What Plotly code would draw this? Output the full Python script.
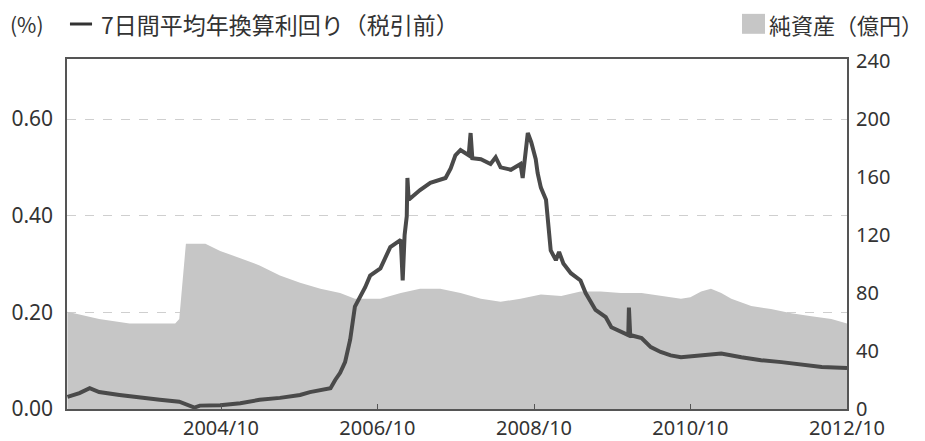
import plotly.graph_objects as go

# Net assets (億円), right axis
asset_dates = ["2002-10-15","2003-03-12","2003-08-01","2004-03-01","2004-03-20","2004-04-10","2004-04-20",
               "2004-07-20","2004-09-27","2004-12-30","2005-03-30","2005-07-03","2005-10-05","2006-01-08",
               "2006-04-10","2006-06-18","2006-10-15","2007-01-18","2007-04-18","2007-07-21","2007-10-24",
               "2008-01-27","2008-04-28","2008-07-30","2008-11-02","2009-02-05","2009-05-06","2009-08-08",
               "2009-11-10","2010-02-15","2010-05-15","2010-08-18","2010-10-01","2010-11-20","2011-01-05",
               "2011-02-22","2011-04-10","2011-07-12","2011-10-12","2012-01-15","2012-04-18","2012-07-20",
               "2012-10-01"]
asset_values = [67,62,59,59,62,95,114,
                114,109,104,99,92,87,83,
                80,76,76,80,83,83,80,
                76,74,76,79,78,81,81,
                80,80,78,76,77,81,83,
                80,76,71,69,66,64,62,
                59]

# 7-day average annualized yield (%), left axis
yield_dates = ["2002-10-15","2002-12-10","2003-01-27","2003-03-12","2003-06-15","2003-09-18","2003-11-02",
               "2003-12-20","2004-03-20","2004-05-30","2004-06-24","2004-09-27","2004-12-30","2005-03-30",
               "2005-07-03","2005-10-05","2005-11-20","2006-01-08","2006-02-24","2006-03-18","2006-04-10",
               "2006-05-03","2006-05-27","2006-06-18","2006-07-12","2006-08-05","2006-08-28","2006-10-15",
               "2006-11-30","2007-01-18","2007-01-27","2007-02-05","2007-02-15","2007-02-18","2007-02-24",
               "2007-03-27","2007-04-18","2007-06-05","2007-07-21","2007-08-15","2007-09-08","2007-09-30",
               "2007-10-24","2007-12-01","2007-12-10","2007-12-18","2008-01-27","2008-03-12","2008-04-05",
               "2008-04-28","2008-06-15","2008-07-30","2008-08-09","2008-08-18","2008-09-02","2008-09-18",
               "2008-10-09","2008-10-18","2008-11-02","2008-11-26","2008-12-09","2008-12-18","2009-01-11",
               "2009-01-26","2009-02-15","2009-03-22","2009-05-06","2009-05-30","2009-07-15","2009-09-01",
               "2009-09-27","2009-11-10","2009-12-15","2009-12-18","2009-12-24","2010-02-15","2010-03-30",
               "2010-05-15","2010-07-01","2010-08-18","2010-11-20","2011-02-22","2011-05-27","2011-08-27",
               "2011-11-30","2012-03-03","2012-06-05","2012-10-01"]
yield_values = [0.025,0.033,0.043,0.035,0.029,0.025,0.023,
                0.019,0.015,0.003,0.007,0.008,0.012,0.019,
                0.023,0.029,0.035,0.039,0.043,0.060,0.075,
                0.097,0.144,0.212,0.232,0.252,0.276,0.291,
                0.335,0.350,0.266,0.360,0.399,0.478,0.433,
                0.446,0.453,0.468,0.474,0.478,0.498,0.525,
                0.536,0.525,0.571,0.519,0.517,0.507,0.521,
                0.500,0.495,0.507,0.478,0.512,0.571,0.552,
                0.517,0.488,0.458,0.433,0.380,0.328,0.308,
                0.325,0.301,0.281,0.266,0.240,0.205,0.190,
                0.169,0.159,0.153,0.210,0.153,0.147,0.128,
                0.118,0.111,0.107,0.111,0.115,0.107,0.101,
                0.097,0.091,0.087,0.085]

x_tickvals = ["2004-10-01","2006-10-01","2008-10-01","2010-10-01","2012-10-01"]
x_ticktext = ["2004/10","2006/10","2008/10","2010/10","2012/10"]
left_ticks = [0.0, 0.2, 0.4, 0.6]
left_ticktext = ["0.00","0.20","0.40","0.60"]
right_ticks = [0, 40, 80, 120, 160, 200, 240]

unit_left = "(%)"
title_left = "7日間平均年換算利回り（税引前）"
title_right = "純資産（億円）"

fig = go.Figure()
fig.add_trace(go.Scatter(x=asset_dates, y=asset_values, yaxis="y", mode="lines",
                         line=dict(color="#c6c6c6", width=0), fill="tozeroy",
                         fillcolor="#c6c6c6", showlegend=False, hoverinfo="skip"))
fig.add_trace(go.Scatter(x=yield_dates, y=yield_values, yaxis="y2", mode="lines",
                         line=dict(color="#4a4a4a", width=4), showlegend=False))

yfont = dict(family="Noto Sans", size=21, color="#333333")
rfont = dict(family="Noto Sans", size=20, color="#333333")
xfont = dict(family="Noto Sans", size=20, color="#333333")
cjk = dict(family="Noto Sans CJK JP", size=23, color="#333333")
ty = 1.1
fig.update_layout(
    width=917, height=433,
    margin=dict(l=59, r=78, t=51, b=32),
    paper_bgcolor="white", plot_bgcolor="white",
    font=yfont,
    xaxis=dict(type="date", range=["2002-10-13", "2012-10-01"],
               tickvals=x_tickvals, ticktext=x_ticktext,
               ticks="inside", ticklen=5, tickcolor="#555555",
               showgrid=False, showline=True, linecolor="#555555", linewidth=1.5,
               mirror=True, zeroline=False, tickfont=xfont, automargin=False,
               ticklabelstandoff=0),
    yaxis=dict(side="right", range=[0, 241.4], tickvals=right_ticks,
               showgrid=False, zeroline=False, showline=False, ticks="",
               ticklabelstandoff=8, tickfont=rfont, automargin=False),
    yaxis2=dict(side="left", overlaying="y", range=[0, 0.7242],
                tickvals=left_ticks, ticktext=left_ticktext,
                showgrid=True, gridcolor="#cfcfcf", griddash="dash", gridwidth=1,
                zeroline=False, showline=True, linecolor="#555555", linewidth=1.5,
                mirror=True, ticks="", ticklabelstandoff=8, tickfont=yfont, automargin=False),
    shapes=[
        dict(type="line", xref="paper", yref="paper", x0=0.0038, x1=0.0321, y0=ty, y1=ty,
             line=dict(color="#333333", width=3)),
        dict(type="rect", xref="paper", yref="paper", x0=0.8654, x1=0.8949, y0=1.072, y1=1.129,
             fillcolor="#c6c6c6", line=dict(width=0)),
    ],
    annotations=[
        dict(text=unit_left, xref="paper", yref="paper", x=-0.0756, y=ty, xanchor="left",
             yanchor="middle", showarrow=False, font=dict(family="Noto Sans CJK JP", size=21, color="#333333")),
        dict(text=title_left, xref="paper", yref="paper", x=0.041, y=ty, xanchor="left",
             yanchor="middle", showarrow=False, font=cjk),
        dict(text=title_right, xref="paper", yref="paper", x=1.1, y=ty, xanchor="right",
             yanchor="middle", showarrow=False, font=dict(family="Noto Sans CJK JP", size=22, color="#333333")),
    ],
)

fig.write_html("out.html")
